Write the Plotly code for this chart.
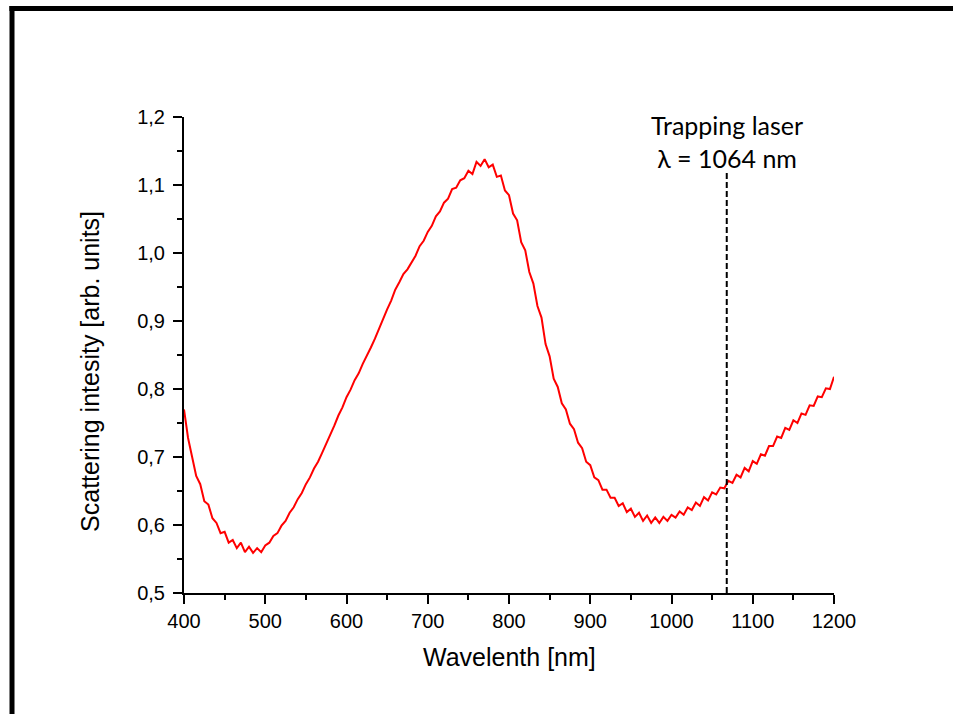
import numpy as np
import plotly.graph_objects as go

# wavelength grid (nm) and scattering intensity, 5 nm steps
wavelength = np.arange(400, 1201, 5)
intensity = [
    0.770, 0.728, 0.700, 0.672, 0.660, 0.635, 0.630, 0.610, 0.603, 0.588,
    0.590, 0.574, 0.578, 0.566, 0.574, 0.560, 0.568, 0.559, 0.566, 0.560,
    0.570, 0.574, 0.584, 0.588, 0.599, 0.606, 0.618, 0.626, 0.638, 0.647,
    0.660, 0.670, 0.683, 0.693, 0.706, 0.719, 0.734, 0.746, 0.761, 0.773,
    0.788, 0.799, 0.813, 0.823, 0.837, 0.848, 0.861, 0.874, 0.889, 0.902,
    0.917, 0.930, 0.946, 0.957, 0.969, 0.976, 0.987, 0.996, 1.010, 1.018,
    1.031, 1.040, 1.054, 1.061, 1.074, 1.080, 1.094, 1.096, 1.107, 1.110,
    1.121, 1.116, 1.134, 1.128, 1.138, 1.126, 1.130, 1.112, 1.114, 1.092,
    1.085, 1.058, 1.048, 1.016, 1.004, 0.972, 0.955, 0.922, 0.905, 0.866,
    0.848, 0.815, 0.803, 0.779, 0.770, 0.749, 0.741, 0.721, 0.713, 0.693,
    0.688, 0.670, 0.666, 0.652, 0.652, 0.640, 0.640, 0.628, 0.632, 0.619,
    0.624, 0.612, 0.618, 0.606, 0.614, 0.603, 0.611, 0.603, 0.612, 0.606,
    0.615, 0.611, 0.620, 0.615, 0.626, 0.622, 0.633, 0.628, 0.641, 0.636,
    0.648, 0.645, 0.655, 0.654, 0.665, 0.662, 0.674, 0.670, 0.684, 0.679,
    0.694, 0.690, 0.704, 0.702, 0.716, 0.716, 0.730, 0.728, 0.743, 0.740,
    0.754, 0.750, 0.764, 0.762, 0.776, 0.775, 0.789, 0.788, 0.801, 0.800,
    0.818,
]

laser_x = 1068
laser_top = 1.118
laser_label = "Trapping laser<br>λ = 1064 nm"

x_range = [400, 1200]
y_range = [0.5, 1.2]

fig = go.Figure()
fig.add_trace(go.Scatter(x=wavelength, y=intensity, mode="lines",
                         line=dict(color="#ff0000", width=2),
                         showlegend=False))

# dashed marker for the trapping laser
fig.add_shape(type="line", xref="x", yref="y",
              x0=laser_x, x1=laser_x, y0=y_range[0], y1=laser_top,
              line=dict(color="black", width=2, dash="6px,3px"))

fig.add_annotation(x=laser_x, y=1.164, xref="x", yref="y",
                   text=laser_label, showarrow=False,
                   xanchor="center", yanchor="middle",
                   font=dict(family="Lato", size=25, color="black"))

# axis titles as annotations so their placement can be matched
fig.add_annotation(x=0.5, y=-0.101, xref="paper", yref="paper",
                   text="Wavelenth [nm]", showarrow=False,
                   xanchor="center", yanchor="top",
                   font=dict(family="Liberation Sans", size=25, color="black"))
fig.add_annotation(x=-0.145, y=0.466, xref="paper", yref="paper",
                   text="Scattering intesity [arb. units]", showarrow=False,
                   textangle=-90, xanchor="center", yanchor="middle",
                   font=dict(family="Liberation Sans", size=25, color="black"))

# outer frame: only its left and top edges fall inside the picture
frame_left, frame_top = -0.2646, 1.228
fig.add_shape(type="line", xref="paper", yref="paper",
              x0=frame_left, x1=frame_left, y0=-0.6, y1=frame_top + 0.005,
              line=dict(color="black", width=5))
fig.add_shape(type="line", xref="paper", yref="paper",
              x0=frame_left - 0.004, x1=1.5, y0=frame_top, y1=frame_top,
              line=dict(color="black", width=5))

axis_common = dict(showline=True, linecolor="black", linewidth=2,
                   ticks="outside", ticklen=9, tickwidth=2, tickcolor="black",
                   showgrid=False, zeroline=False, mirror=False,
                   tickfont=dict(family="Liberation Sans", size=20, color="black"))

fig.update_xaxes(range=x_range, dtick=100, tick0=400, tickformat="d",
                 minor=dict(dtick=50, ticks="outside", ticklen=5,
                            tickwidth=2, tickcolor="black"),
                 **axis_common)
fig.update_yaxes(range=y_range, dtick=0.1, tick0=0.5, tickformat=".1f",
                 ticklabelstandoff=4,
                 minor=dict(dtick=0.05, ticks="outside", ticklen=5,
                            tickwidth=2, tickcolor="black"),
                 **axis_common)

fig.update_layout(width=953, height=714,
                  margin=dict(l=184, r=119, t=117, b=121),
                  paper_bgcolor="white", plot_bgcolor="white",
                  separators=",.")

fig.write_html("out.html", config={"displayModeBar": False},
               post_script="document.body.style.margin='0';"
                           "document.body.style.overflow='hidden';")
